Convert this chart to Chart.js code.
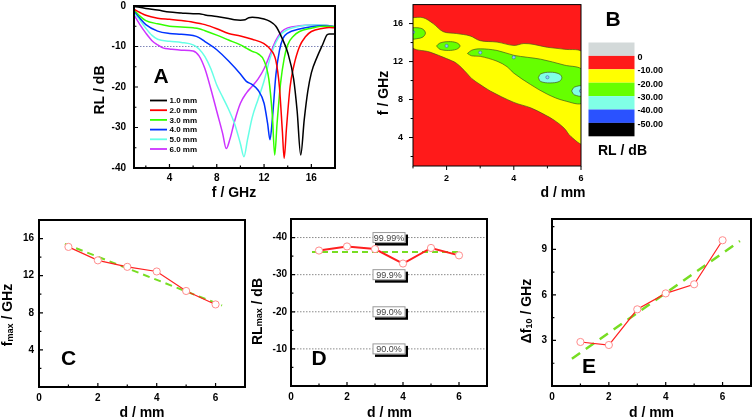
<!DOCTYPE html>
<html><head><meta charset="utf-8">
<script src="https://cdn.jsdelivr.net/npm/chart.js@4.4.1/dist/chart.umd.min.js"></script>
<style>
html,body{margin:0;padding:0;background:#fff;}
#wrap{position:relative;width:756px;height:420px;overflow:hidden;background:#fff}
#wrap canvas{position:absolute;left:0;top:0}
</style></head><body>
<div id="wrap">
<canvas id="cA" width="756" height="420"></canvas>
<canvas id="cB" width="756" height="420"></canvas>
<canvas id="cC" width="756" height="420"></canvas>
<canvas id="cD" width="756" height="420"></canvas>
<canvas id="cE" width="756" height="420"></canvas>
</div>
<script>
// ================= DATA =================
// Panel A : reflection loss RL (dB) vs frequency f (GHz) for each thickness
const fA1  = [1,2,3,4,5,6,6.5,7,8,9,9.5,10,10.4,10.7,11,12,12.5,13,13.5,14,14.5,14.8,15.1,15.4,15.7,16,16.5,17,17.3,17.5,18];
const rlA1 = [-0.1,-0.6,-1.0,-1.5,-1.7,-1.9,-1.9,-2.2,-2.6,-3.1,-3.4,-3.5,-3.4,-2.9,-2.8,-3.2,-3.8,-5.0,-7.8,-11.5,-18,-26,-36.8,-28,-21,-16.5,-12.5,-9.2,-7.2,-6.9,-6.9];
const fA2  = [1,1.5,2,3,4,5,6,7,8,9,10,11,12,12.5,13,13.3,13.55,13.7,13.9,14.2,14.5,15,15.5,16,17,17.5,18];
const rlA2 = [-0.8,-1.6,-2.3,-3.0,-3.3,-3.6,-4.0,-4.6,-5.6,-6.8,-7.4,-8.2,-9.3,-10.6,-13.5,-20,-31,-37.6,-30,-20,-15,-10,-7.6,-6.3,-5.5,-5.3,-5.4];
const fA3  = [1,1.5,2,3,4,5,6,6.5,7,8,9,10,10.5,11,11.5,12,12.4,12.7,12.9,13.1,13.4,13.7,14,14.5,15,16,17,18];
const rlA3 = [-0.9,-2.5,-3.6,-4.4,-5.0,-5.2,-5.4,-5.6,-6.1,-7.2,-8.4,-9.6,-10.4,-11.2,-11.8,-13.5,-18,-27,-36.8,-29,-19,-13,-9.6,-7.4,-6.3,-5.5,-5.0,-5.1];
const fA4  = [1,1.5,2,3,4,5,6,6.5,7,8,9,10,10.5,11,11.5,12,12.3,12.5,12.7,13,13.3,13.6,14,15,16,17,18];
const rlA4 = [-1.2,-3,-4.6,-6.2,-6.8,-7.0,-7.3,-7.8,-8.8,-10.8,-13.6,-16.8,-18.6,-19.4,-20.8,-24,-29,-33,-28,-17,-11,-8,-6.7,-5.7,-5.1,-4.9,-5.1];
const fA5  = [1,1.5,2,2.5,3,4,5,6,6.5,7,7.5,8,8.5,9,9.5,10,10.3,10.6,11,11.5,12,12.5,13,13.5,14,15,16,17,18];
const rlA5 = [-1.6,-3.5,-5.5,-7.2,-8.2,-8.7,-9.0,-9.6,-10.6,-12.5,-15.5,-19.5,-22.5,-25.5,-29,-34,-37.2,-33,-27.5,-23,-18.5,-13,-9,-6.8,-5.8,-5.0,-4.7,-4.7,-5.1];
const fA6  = [1,1.5,2,2.5,3,3.5,4,5,6,6.5,7,7.5,8,8.5,8.8,9.1,9.5,10,10.5,11,11.5,12,12.5,13,13.5,14,15,16,17,18];
const rlA6 = [-2.2,-4.6,-6.7,-8.5,-9.6,-10.4,-10.6,-10.9,-11.1,-12.3,-15.5,-20.5,-26,-31.5,-35.2,-33,-28.5,-24,-21.5,-19.8,-18,-15.5,-12,-8.5,-6.3,-5.4,-4.9,-4.7,-4.7,-5.1];
const labelsA = ['1.0 mm','2.0 mm','3.0 mm','4.0 mm','5.0 mm','6.0 mm'];
const ticksAx = [4,8,12,16], minorAx = [2,6,10,14];
const ticksAy = [0,-10,-20,-30,-40], minorAy = [-5,-15,-25,-35];
const refLineA = -10;

// Panel B : contour map, boundaries of RL levels (d in mm, f in GHz)
const yellowD = [0.95,1.3,1.6,1.9,2.3,2.7,3.0,3.5,4.0,4.3,4.6,5.0,5.5,6.05, 6.05,5.7,5.5,5.2,4.9,4.5,4.0,3.3,3.0,2.75,2.6,2.3,2.0,1.5,0.95,0.95];
const yellowF = [16.62,16.62,16.0,15.15,14.95,14.7,14.2,14.05,13.7,13.9,13.8,13.5,13.3,12.85, 3.4,4.1,4.98,5.83,6.44,7.13,7.7,8.9,9.58,10.2,10.78,11.8,12.31,13.0,13.6,16.62];
const green1D = [0.95,1.15,1.3,1.37,1.3,1.15,0.95,0.95];
const green1F = [15.56,15.56,15.4,15.0,14.6,14.43,14.43,15.56];
const green2D = [1.7,1.8,2.05,2.3,2.4,2.3,2.05,1.8,1.7];
const green2F = [13.64,13.95,14.1,13.98,13.64,13.3,13.17,13.3,13.64];
const green3D = [2.62,2.75,3.0,3.5,4.0,4.4,4.8,5.5,6.05, 6.05,5.5,5.0,4.5,4.0,3.8,3.5,3.0,2.75,2.62];
const green3F = [12.85,13.2,13.34,13.17,12.66,12.45,12.25,11.63,11.05, 7.7,7.88,8.56,9.58,10.78,11.46,12.04,12.55,12.6,12.85];
const cyan1D = [4.73,4.8,5.08,5.35,5.43,5.35,5.08,4.8,4.73];
const cyan1F = [10.3,10.7,10.88,10.7,10.3,9.9,9.75,9.9,10.3];
const cyan2D = [5.72,5.8,6.05,6.05,5.8,5.72];
const cyan2F = [8.9,9.3,9.4,8.4,8.5,8.9];
const levelLabels = ['0','-10.00','-20.00','-30.00','-40.00','-50.00'];
const ticksBx = [2,4,6], minorBx = [1,3,5];
const ticksBy = [4,8,12,16], minorBy = [2,6,10,14];

// Panels C, D, E
const dPts   = [1,2,3,4,5,6];
const fmaxC  = [15.1,13.65,12.95,12.45,10.35,8.9];
const fitCd  = [0.88,6.22], fitCf = [15.43,8.79];
const rlmaxD = [-36.5,-37.6,-36.9,-33.0,-37.2,-35.2];
const fitDd  = [0.75,6.1],  fitDr = [-36.1,-36.1];
const dfE    = [2.9,2.7,5.05,6.1,6.7,9.6];
const fitEd  = [0.70,6.61], fitEf = [1.79,9.55];
const ticksCDEx = [0,2,4,6], minorCDEx = [1,3,5];
const ticksCy = [4,8,12,16], minorCy = [2,6,10,14];
const ticksDy = [-40,-30,-20,-10], minorDy = [-35,-25,-15,-5];
const effLevels = [-40,-30,-20,-10];
const effLabels = ['99.99%','99.9%','99.0%','90.0%'];
const ticksEy = [3,6,9], minorEy = [1.5,4.5,7.5,10.5];

// ================= STYLE / HELPERS =================
const FF = "'Liberation Sans', Arial, Helvetica, sans-serif";
Chart.defaults.font.family = FF;
Chart.defaults.animation = false;
Chart.defaults.color = '#000';
const W = 756, H = 420;
const colorsA = ['#000000','#ff0000','#33ff00','#0033ff','#66ffe6','#cc33ff'];
const levelColors = ['#d3d9d9','#ff1a1a','#ffff00','#66ff00','#80ffe6','#2a52ff','#000000'];
const pts = (xs, ys) => xs.map((x, i) => ({x, y: ys[i]}));

function axis(min, max, vals, pad, isX, boxSize, size, extra) {
  return Object.assign({
    type: 'linear', min, max,
    grid: {display: false, drawTicks: false},
    border: {display: false},
    ticks: {padding: pad, color: '#000', autoSkip: false, maxRotation: 0,
      font: {size: size || 10, weight: 'bold', lineHeight: 1},
      callback: (v) => String(v)},
    afterBuildTicks: s => { s.ticks = vals.map(v => ({value: v})); },
    afterFit: s => {
      if (isX) s.height = boxSize; else s.width = boxSize;
      s.paddingTop = 0; s.paddingBottom = 0; s.paddingLeft = 0; s.paddingRight = 0;
    }
  }, extra || {});
}
// area = [left, top, right, bottom] of the plot area in page pixels
function chartOpts(area, xr, xt, xpad, yr, yt, ypad, size, yExtra) {
  return {
    responsive: false, animation: false, events: [],
    layout: {padding: {left: 0, top: area[1], right: W - area[2], bottom: 0}},
    scales: {
      x: axis(xr[0], xr[1], xt, xpad, true, H - area[3], size),
      y: axis(yr[0], yr[1], yt, ypad, false, area[0], size, yExtra)
    },
    plugins: {legend: {display: false}, tooltip: {enabled: false}}
  };
}
function frame(chart, o) {
  const {ctx, chartArea: a} = chart;
  const xs = chart.scales.x, ys = chart.scales.y;
  const dir = o.inward ? -1 : 1;
  ctx.save();
  ctx.strokeStyle = '#000';
  ctx.lineWidth = o.tw;
  ctx.beginPath();
  const xt = (v, l) => { const p = xs.getPixelForValue(v); ctx.moveTo(p, a.bottom); ctx.lineTo(p, a.bottom + dir * l); };
  const yt = (v, l) => { const p = ys.getPixelForValue(v); ctx.moveTo(a.left, p); ctx.lineTo(a.left - dir * l, p); };
  xs.ticks.forEach(t => xt(t.value, o.len));
  ys.ticks.forEach(t => yt(t.value, o.len));
  (o.xm || []).forEach(v => xt(v, o.len * 0.6));
  (o.ym || []).forEach(v => yt(v, o.len * 0.6));
  ctx.stroke();
  ctx.lineWidth = o.lw;
  ctx.strokeRect(a.left, a.top, a.right - a.left, a.bottom - a.top);
  ctx.restore();
}
function rich(ctx, parts, cx, cy, rot) {
  ctx.save();
  ctx.translate(cx, cy);
  if (rot) ctx.rotate(rot);
  let total = 0;
  parts.forEach(p => { ctx.font = `bold ${p.s}px ${FF}`; p.w = ctx.measureText(p.t).width; total += p.w; });
  let x = -total / 2;
  ctx.textBaseline = 'middle'; ctx.textAlign = 'left'; ctx.fillStyle = '#000';
  parts.forEach(p => { ctx.font = `bold ${p.s}px ${FF}`; ctx.fillText(p.t, x, p.dy || 0); x += p.w; });
  ctx.restore();
}
const R90 = -Math.PI / 2;

// ================= PANEL A =================
const seriesA = [[fA1, rlA1], [fA2, rlA2], [fA3, rlA3], [fA4, rlA4], [fA5, rlA5], [fA6, rlA6]];
new Chart(document.getElementById('cA'), {
  type: 'scatter',
  data: {datasets: seriesA.map((s, i) => ({
    label: labelsA[i], data: pts(s[0], s[1]), showLine: true,
    borderColor: colorsA[i], borderWidth: 1.5, pointRadius: 0,
    cubicInterpolationMode: 'monotone', fill: false
  }))},
  options: chartOpts([134, 6, 335, 168], [1, 18], ticksAx, 5, [-40, 0], ticksAy, 8, 10),
  plugins: [{
    id: 'decoA',
    beforeDatasetsDraw(chart) {
      const {ctx, chartArea: a} = chart;
      const y = chart.scales.y.getPixelForValue(refLineA);
      ctx.save(); ctx.strokeStyle = '#7f86b8'; ctx.lineWidth = 1; ctx.setLineDash([1.5, 1.5]);
      ctx.beginPath(); ctx.moveTo(a.left, y); ctx.lineTo(a.right, y); ctx.stroke(); ctx.restore();
    },
    afterDatasetsDraw(chart) {
      const ctx = chart.ctx;
      frame(chart, {inward: true, len: 4, tw: 1.2, lw: 2, xm: minorAx, ym: minorAy});
      ctx.save();
      chart.data.datasets.forEach((ds, i) => {
        const y = 100.5 + i * 9.7;
        ctx.strokeStyle = ds.borderColor; ctx.lineWidth = 1.8;
        ctx.beginPath(); ctx.moveTo(150, y); ctx.lineTo(167, y); ctx.stroke();
        ctx.fillStyle = '#000'; ctx.font = `bold 8px ${FF}`; ctx.textBaseline = 'middle';
        ctx.fillText(ds.label, 169.5, y + 0.5);
      });
      ctx.restore();
      rich(ctx, [{t: 'RL / dB', s: 14}], 100, 90, R90);
      rich(ctx, [{t: 'f / GHz', s: 14}], 234, 193);
      rich(ctx, [{t: 'A', s: 21}], 161, 77);
    }
  }]
});

// ================= PANEL B =================
const poly = (d, f, color, order) => ({data: pts(d, f), showLine: true, fill: 'shape',
  backgroundColor: color, borderColor: 'rgba(70,80,30,0.85)', borderWidth: 0.8,
  pointRadius: 0, tension: 0.35, order});
new Chart(document.getElementById('cB'), {
  type: 'scatter',
  data: {datasets: [
    {data: pts(dPts, fmaxC), pointRadius: 1.6, pointBackgroundColor: '#8fd0ff', pointBorderColor: '#3c6c9c', pointBorderWidth: 0.6, order: 0},
    poly(cyan2D, cyan2F, levelColors[4], 1),
    poly(cyan1D, cyan1F, levelColors[4], 1),
    poly(green3D, green3F, levelColors[3], 2),
    poly(green2D, green2F, levelColors[3], 2),
    poly(green1D, green1F, levelColors[3], 2),
    poly(yellowD, yellowF, levelColors[2], 3)
  ]},
  options: chartOpts([413, 3, 581, 166], [1, 6], ticksBx, 8, [1, 18], ticksBy, 10, 9),
  plugins: [{
    id: 'decoB',
    beforeDatasetsDraw(chart) {
      const {ctx, chartArea: a} = chart;
      ctx.save(); ctx.fillStyle = levelColors[1];
      ctx.fillRect(a.left, a.top, a.right - a.left, a.bottom - a.top); ctx.restore();
    },
    afterDatasetsDraw(chart) {
      const ctx = chart.ctx;
      frame(chart, {inward: false, len: 4, tw: 1, lw: 1, xm: minorBx, ym: minorBy});
      ctx.save();
      const x0 = 588.5, w = 46, y0 = 42.5, h = 13.4;
      levelColors.forEach((c, i) => { ctx.fillStyle = c; ctx.fillRect(x0, y0 + i * h, w, h); });
      ctx.fillStyle = '#000'; ctx.font = `bold 9px ${FF}`; ctx.textBaseline = 'middle'; ctx.textAlign = 'left';
      levelLabels.forEach((t, i) => ctx.fillText(t, 637.5, y0 + (i + 1) * h + 1.5));
      ctx.restore();
      rich(ctx, [{t: 'RL / dB', s: 14}], 622.5, 151.5);
      rich(ctx, [{t: 'f / GHz', s: 14}], 384, 93, R90);
      rich(ctx, [{t: 'd / mm', s: 14}], 563, 193);
      rich(ctx, [{t: 'B', s: 21}], 613, 20);
    }
  }]
});

// ================= PANELS C, D, E =================
function lineSet(ys, lw) {
  return {data: pts(dPts, ys), showLine: true, borderColor: '#ff2020', borderWidth: lw,
    pointRadius: 3.6, pointBorderColor: '#ff8c8c', pointBackgroundColor: '#ffffff', pointBorderWidth: 1, order: 0};
}
function fitSet(xs, ys, lw, dash) {
  return {data: pts(xs, ys), showLine: true, borderColor: '#77dd22', borderWidth: lw, borderDash: dash,
    pointRadius: 0, order: 1};
}

new Chart(document.getElementById('cC'), {
  type: 'scatter',
  data: {datasets: [lineSet(fmaxC, 1.2), fitSet(fitCd, fitCf, 2, [7, 5])]},
  options: chartOpts([39, 220, 245, 387], [0, 7], ticksCDEx, 6, [0, 18], ticksCy, 5, 10),
  plugins: [{
    id: 'decoC',
    afterDatasetsDraw(chart) {
      const ctx = chart.ctx;
      frame(chart, {inward: true, len: 4, tw: 1.2, lw: 2, xm: minorCDEx, ym: minorCy});
      rich(ctx, [{t: 'f', s: 14}, {t: 'max', s: 9, dy: 3}, {t: ' / GHz', s: 14}], 8, 315, R90);
      rich(ctx, [{t: 'd / mm', s: 14}], 142, 413);
      rich(ctx, [{t: 'C', s: 21}], 68.5, 359);
    }
  }]
});

new Chart(document.getElementById('cD'), {
  type: 'scatter',
  data: {datasets: [lineSet(rlmaxD, 2), fitSet(fitDd, fitDr, 2, [6, 4])]},
  options: chartOpts([291, 219, 487, 386], [0, 7], ticksCDEx, 6, [-45, 0], ticksDy, 4, 10, {reverse: true}),
  plugins: [{
    id: 'decoD',
    beforeDatasetsDraw(chart) {
      const {ctx, chartArea: a} = chart;
      const xs = chart.scales.x, ys = chart.scales.y;
      ctx.save();
      ctx.strokeStyle = '#8a8a8a'; ctx.lineWidth = 1; ctx.setLineDash([1.5, 1.5]);
      effLevels.forEach(v => { const y = ys.getPixelForValue(v); ctx.beginPath(); ctx.moveTo(a.left, y); ctx.lineTo(a.right, y); ctx.stroke(); });
      ctx.setLineDash([]);
      const cx = xs.getPixelForValue(3.5);
      effLevels.forEach((v, i) => {
        const cy = ys.getPixelForValue(v), bw = 33, bh = 11;
        ctx.fillStyle = '#000'; ctx.fillRect(cx - bw / 2 + 2.5, cy - bh / 2 + 2.5, bw, bh);
        ctx.fillStyle = '#fff'; ctx.fillRect(cx - bw / 2, cy - bh / 2, bw, bh);
        ctx.strokeStyle = '#9a9a9a'; ctx.lineWidth = 1; ctx.strokeRect(cx - bw / 2 + 0.5, cy - bh / 2 + 0.5, bw - 1, bh - 1);
        ctx.fillStyle = '#444'; ctx.font = `9px ${FF}`; ctx.textAlign = 'center'; ctx.textBaseline = 'middle';
        ctx.fillText(effLabels[i], cx, cy + 0.5);
      });
      ctx.restore();
    },
    afterDatasetsDraw(chart) {
      const ctx = chart.ctx;
      frame(chart, {inward: true, len: 4, tw: 1.2, lw: 2, xm: minorCDEx, ym: minorDy});
      rich(ctx, [{t: 'RL', s: 14}, {t: 'max', s: 9, dy: 2}, {t: ' / dB', s: 14}], 258, 311.5, R90);
      rich(ctx, [{t: 'd / mm', s: 14}], 389.5, 413);
      rich(ctx, [{t: 'D', s: 21}], 319, 359);
    }
  }]
});

new Chart(document.getElementById('cE'), {
  type: 'scatter',
  data: {datasets: [lineSet(dfE, 1.2), fitSet(fitEd, fitEf, 2.5, [10, 7])]},
  options: chartOpts([552, 219, 751, 386], [0, 7], ticksCDEx, 6, [0, 11], ticksEy, 5, 10),
  plugins: [{
    id: 'decoE',
    afterDatasetsDraw(chart) {
      const ctx = chart.ctx;
      frame(chart, {inward: true, len: 4, tw: 1.2, lw: 2, xm: minorCDEx, ym: minorEy});
      rich(ctx, [{t: 'Δf', s: 14}, {t: '10', s: 9, dy: 3}, {t: ' / GHz', s: 14}], 527, 311, R90);
      rich(ctx, [{t: 'd / mm', s: 14}], 651.5, 413);
      rich(ctx, [{t: 'E', s: 21}], 589, 367);
    }
  }]
});
</script>
</body></html>
